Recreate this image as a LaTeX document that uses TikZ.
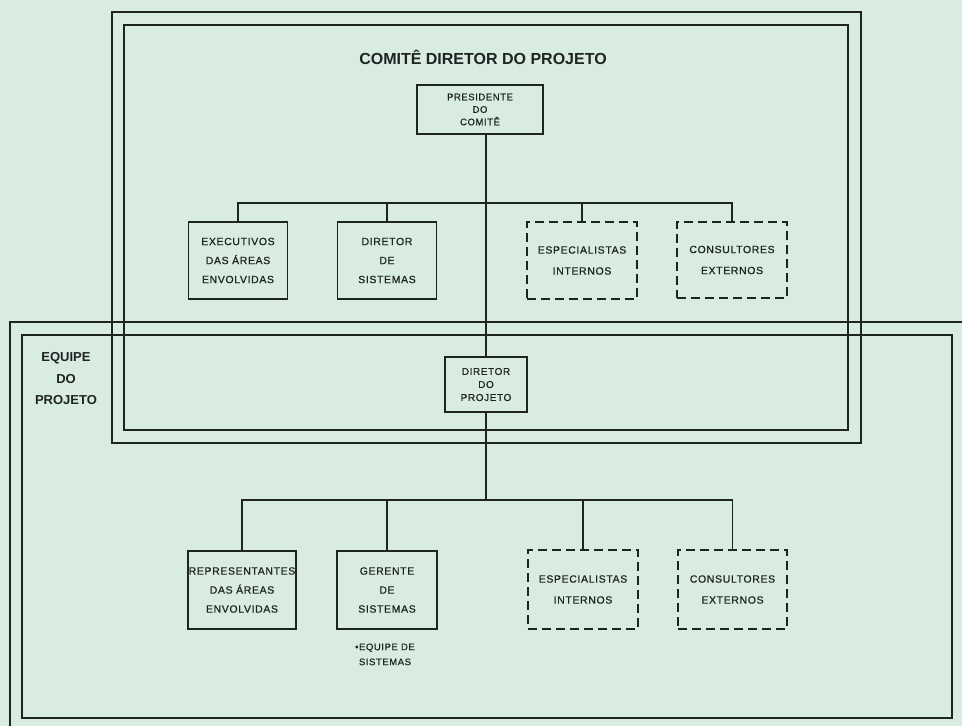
\documentclass[tikz,border=0pt]{standalone}
\usepackage{fontspec}
\setmainfont{Liberation Sans}
\newfontfamily\boxfont[LetterSpace=6,FakeBold=0.6]{Liberation Sans}
\definecolor{bg}{RGB}{216,236,226}
\definecolor{ink}{RGB}{30,36,34}
\tikzset{
  frame/.style={draw=ink, line width=1.4pt},
  wire/.style={draw=ink, line width=1.3pt},
  solidbox/.style={draw=ink, line width=1.3pt, text=ink, align=center, inner sep=0pt,
    font=\boxfont\fontsize{10.5}{19}\selectfont},
  dashbox/.style={solidbox, dash pattern=on 9pt off 5pt},
  smallbox/.style={draw=ink, line width=1.3pt, text=ink, align=center, inner sep=0pt,
    font=\boxfont\fontsize{9.5}{12.5}\selectfont},
  heading/.style={text=ink, align=center, font=\bfseries\fontsize{16}{18}\selectfont},
  sidehead/.style={text=ink, align=center, font=\bfseries\fontsize{13}{21.5}\selectfont},
  note/.style={text=ink, align=center, font=\boxfont\fontsize{9.5}{15}\selectfont}
}
\begin{document}
\begin{tikzpicture}[x=1pt,y=-1pt]
\useasboundingbox (0,0) rectangle (962,726);
\clip (0,0) rectangle (962,726);
\fill[bg] (0,0) rectangle (962,726);
% frames
\draw[frame] (112,12) rectangle (861,443);
\draw[frame] (124,25) rectangle (848,430);
\draw[frame] (10,740) -- (10,322) -- (975,322);
\draw[frame] (22,335) rectangle (952,718);
% title texts
\node[heading] (title) at (483,57) {COMITÊ DIRETOR DO PROJETO};
\node[sidehead] (equipe) at (66,379) {EQUIPE\\DO\\PROJETO};
% nodes
\node[smallbox, minimum width=126pt, minimum height=49pt] (pres) at (480,109.5) {PRESIDENTE\\DO\\COMITÊ};
\node[solidbox, minimum width=99pt, minimum height=77pt] (b1) at (238,260.5) {EXECUTIVOS\\DAS ÁREAS\\ENVOLVIDAS};
\node[solidbox, minimum width=99pt, minimum height=77pt] (b2) at (387,260.5) {DIRETOR\\DE\\SISTEMAS};
\node[dashbox, minimum width=110pt, minimum height=77pt, font=\boxfont\fontsize{10.5}{21}\selectfont] (b3) at (582,260.5) {ESPECIALISTAS\\INTERNOS};
\node[dashbox, minimum width=110pt, minimum height=76pt, font=\boxfont\fontsize{10.5}{21}\selectfont] (b4) at (732,260) {CONSULTORES\\EXTERNOS};
\node[smallbox, minimum width=82pt, minimum height=55pt, font=\boxfont\fontsize{10}{13}\selectfont] (dir) at (486,384.5) {DIRETOR\\DO\\PROJETO};
\node[solidbox, minimum width=108pt, minimum height=78pt] (c1) at (242,590) {REPRESENTANTES\\DAS ÁREAS\\ENVOLVIDAS};
\node[solidbox, minimum width=100pt, minimum height=78pt] (c2) at (387,590) {GERENTE\\DE\\SISTEMAS};
\node[dashbox, minimum width=110pt, minimum height=79pt, font=\boxfont\fontsize{10.5}{21}\selectfont] (c3) at (583,589.5) {ESPECIALISTAS\\INTERNOS};
\node[dashbox, minimum width=109pt, minimum height=79pt, font=\boxfont\fontsize{10.5}{21}\selectfont] (c4) at (732.5,589.5) {CONSULTORES\\EXTERNOS};
\node[note, anchor=north] (eq) at (385,640) {\textbullet EQUIPE DE\\SISTEMAS};
% connectors
\coordinate (bus1) at (486,203);
\coordinate (bus2) at (486,500);
\draw[wire] (pres.south -| dir.north) -- (dir.north);
\draw[wire] (b1.north) |- (bus1) -| (b4.north);
\draw[wire] (b2.north) -- (b2.north |- bus1);
\draw[wire] (b3.north) -- (b3.north |- bus1);
\draw[wire] (dir.south) -- (bus2);
\draw[wire] (c1.north) |- (bus2) -| (c4.north);
\draw[wire] (c2.north) -- (c2.north |- bus2);
\draw[wire] (c3.north) -- (c3.north |- bus2);
\end{tikzpicture}
\end{document}
